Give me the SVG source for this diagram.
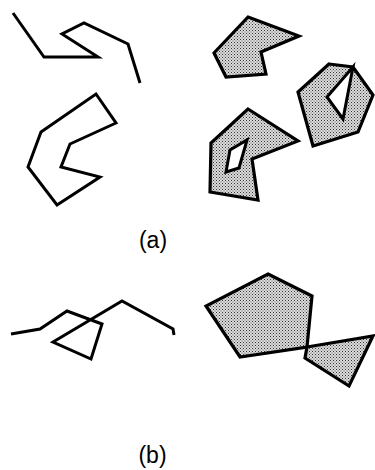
<svg xmlns="http://www.w3.org/2000/svg" width="375" height="470" viewBox="0 0 375 470">
<style>
.ln{fill:none;stroke:#000;stroke-width:3;stroke-linejoin:miter;stroke-linecap:butt}
.sh{fill:url(#dots);stroke:#000;stroke-width:3.2;stroke-linejoin:miter}
.hole{fill:#fff;stroke:#000;stroke-width:3;stroke-linejoin:miter}
.lbl{font-family:"Liberation Sans",Arial,sans-serif;font-size:23px;fill:#000;text-anchor:middle}
</style>
<defs>
<pattern id="dots" width="3" height="3" patternUnits="userSpaceOnUse">
<rect width="3" height="3" fill="#dcdcdc"/>
<rect x="0" y="0" width="1" height="1" fill="#333"/>
<rect x="1.5" y="1.5" width="1" height="1" fill="#555"/>
</pattern>
</defs>
<rect width="375" height="470" fill="#fff"/>
<g id="a-polyline"><polyline class="ln" points="13,13 44,57 98,57 62,34 84,23 128,44 140,83"/></g>
<g id="a-polygon-open"><polygon class="ln" points="96,94 116,123 70,144 61,167 100,177 57,205 28,167 41,132"/></g>
<g id="a-shaded-1"><polygon class="sh" points="248,17 299,36 261,52 266,74 226,77 214,53"/></g>
<g id="a-shaded-2"><polygon class="sh" points="329,64 353,67 373,95 358,132 313,146 298,92"/><polygon class="hole" points="353,67 327,97 343,119"/></g>
<g id="a-shaded-3"><polygon class="sh" points="248,109 298,141 252,159 258,200 210,192 211,143"/><polygon class="hole" points="247,140 239,168 226,172 230,150"/></g>
<g id="b-polyline"><polyline class="ln" points="11,334 40,329 67,311 102,324 91,359 53,342 122,301 173,329 174,335"/></g>
<g id="b-pentagon"><polygon class="sh" points="268,274 312,296 307,347 240,357 206,306"/></g>
<g id="b-triangle"><polygon class="sh" points="307,347 373,336 349,386 305,358"/></g>
<text class="lbl" x="153" y="248">(a)</text>
<text class="lbl" x="152.5" y="463">(b)</text>
</svg>
